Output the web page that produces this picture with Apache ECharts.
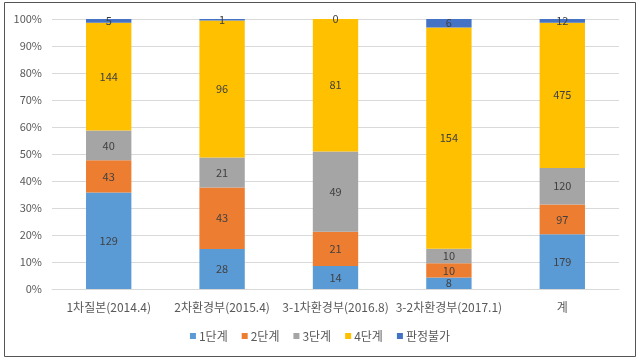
<!DOCTYPE html>
<html><head><meta charset="utf-8">
<script src="https://cdn.jsdelivr.net/npm/echarts@6/dist/echarts.min.js"></script>
<style>html,body{margin:0;padding:0;background:#fff}#c{width:640px;height:360px}</style>
</head><body><div id="c"></div>
<script>
const categories = ['1차질본(2014.4)','2차환경부(2015.4)','3-1차환경부(2016.8)','3-2차환경부(2017.1)','계'];
const seriesNames = ['1단계','2단계','3단계','4단계','판정불가'];
const stage1 = [129, 28, 14, 8, 179];
const stage2 = [43, 43, 21, 10, 97];
const stage3 = [40, 21, 49, 10, 120];
const stage4 = [144, 96, 81, 154, 475];
const undetermined = [5, 1, 0, 6, 12];
const colors = ['#5B9BD5','#ED7D31','#A5A5A5','#FFC000','#4472C4'];

const all = [stage1, stage2, stage3, stage4, undetermined];
const totals = categories.map((_, i) => all.reduce((s, a) => s + a[i], 0));
const font = 'Noto Sans CJK KR, sans-serif';
const chart = echarts.init(document.getElementById('c'));
chart.setOption({
  animation: false,
  color: colors,
  graphic: [{type:'rect', shape:{x:4.5,y:2.5,width:631,height:354}, style:{fill:'none', stroke:'#555', lineWidth:1}}],
  grid: {left: 52, right: 21, top: 19, bottom: 71},
  legend: {
    bottom: 13, left: 'center', itemWidth: 6, itemHeight: 6, itemGap: 14,
    icon: 'rect',
    textStyle: {color: '#595959', fontSize: 12, fontFamily: font, padding:[0,0,0,-2]},
    data: seriesNames
  },
  xAxis: {
    type: 'category', data: categories,
    axisLine: {lineStyle: {color: '#D9D9D9'}}, axisTick: {show: false},
    axisLabel: {color: '#595959', fontSize: 12, fontFamily: font, margin: 12, interval: 0}
  },
  yAxis: {
    type: 'value', min: 0, max: 100, interval: 10,
    axisLabel: {formatter: '{value}%', color: '#595959', fontSize: 11, fontFamily: font, margin: 10},
    splitLine: {lineStyle: {color: '#D9D9D9'}},
    axisLine: {show: false}, axisTick: {show: false}
  },
  series: all.map((arr, k) => ({
    name: seriesNames[k], type: 'bar', stack: 'total', barWidth: '40%',
    data: arr.map((v, i) => ({value: v / totals[i] * 100, raw: v})),
    label: {
      show: true, position: 'inside', color: '#404040', fontSize: 11, fontFamily: font,
      formatter: p => String(p.data.raw)
    },
    labelLayout: {hideOverlap: false}
  }))
});
</script></body></html>
